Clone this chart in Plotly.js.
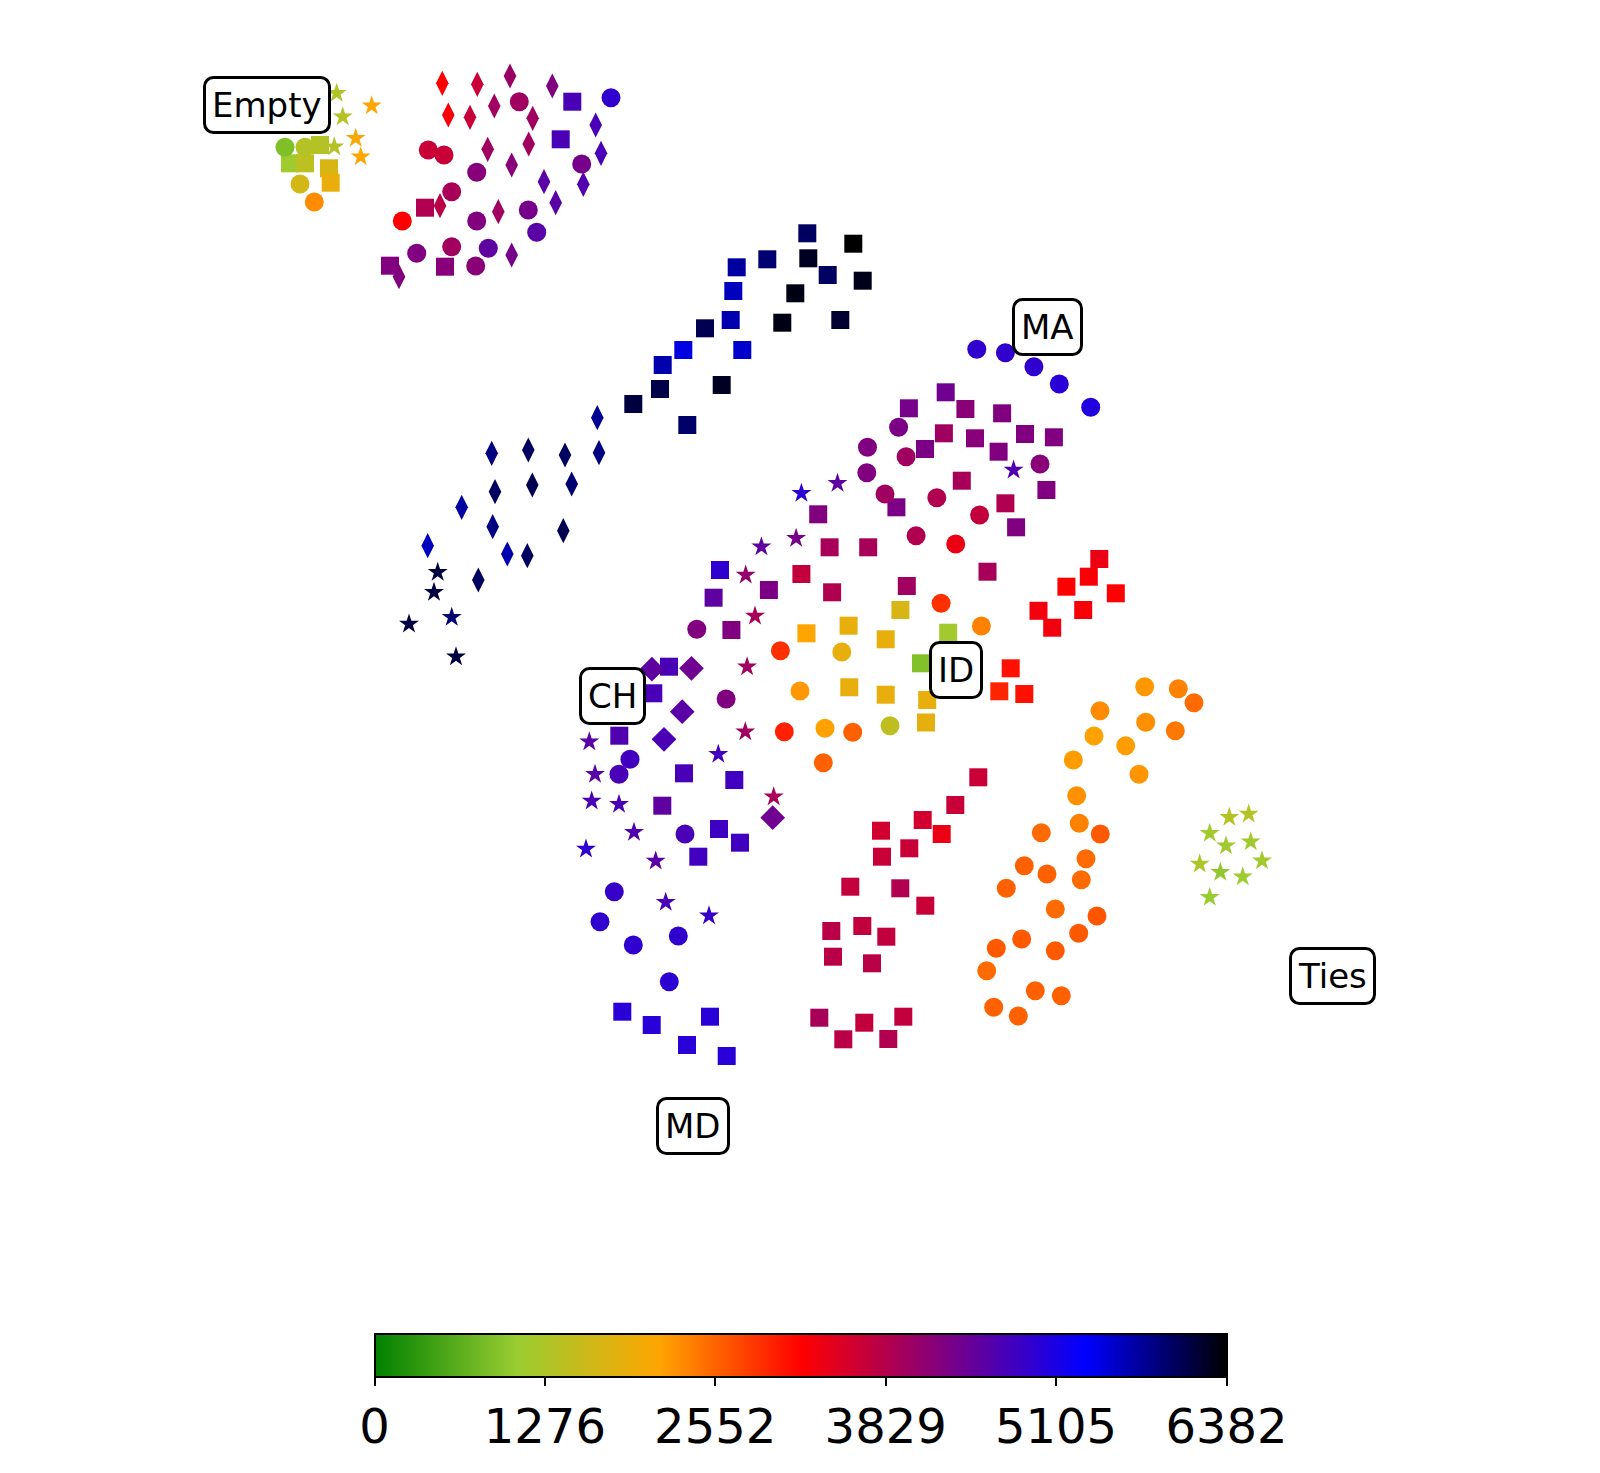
<!DOCTYPE html>
<html><head><meta charset="utf-8">
<script src="https://cdn.plot.ly/plotly-3.0.1.min.js"></script>
<style>html,body{margin:0;padding:0;background:#fff}</style>
</head><body><div id="chart" style="width:1600px;height:1473px"></div>
<script>
// ---- data (embedding coordinates and value per point) ----
const circleX = [285,305,300,314.3,
 519.3,611,428.3,444,476.7,581.7,451.7,402.3,476.7,528.3,536.7,416.7,451.7,488.3,475.7,
 976.8,1005.4,1033.9,1059.3,1090.7,
 898.6,867.5,906.1,866.8,1040,885,936.8,979.6,916.1,955.7,941.1,981.4,780.4,841.8,800,726.1,696.8,784.3,825,852.7,890,823.3,
 630,619,685,614.3,600,633.3,678.3,669.3,
 1144.7,1178.3,1194,1100,1145.7,1175.3,1094,1125.7,1073.3,1139,1076.7,1079.3,1041.3,1100.3,1086,1024.3,1047,1081.3,1006.3,1055.3,1097,1021.7,1078.7,996.3,1055.3,986.7,1035.3,1061.3,993.7,1018.3];
const circleY = [147.3,147.3,184,202,
 101.7,97.7,150,155,172.3,164,191.7,221,221,210,232.3,253.3,246.7,248.3,266,
 349.3,352.7,366.7,384,407.3,
 427.3,447.3,456.7,472.7,464,494,497.7,515,535.7,544,603.3,626,650.7,652,691,699,629.3,731.7,728.3,732.3,725.7,762.7,
 759.3,774.3,834,891.7,921.7,945,936,981.7,
 686.7,688.7,702.7,710.7,722.3,730.7,736,745.7,760,774.3,795.7,823.3,832.7,834,858.7,865.7,874,879.7,888.3,909,916,939,933.3,948.3,950.7,970.7,990.7,995.7,1007.3,1016];
const circleV = [880,1350,1650,2290,
 3990,4920,3650,3650,4200,4340,3920,3191,4240,4340,4575,4255,3990,4530,4180,
 4920,4920,4920,4980,5050,
 4300,4255,3990,4255,4180,3990,3850,3700,3850,3350,2880,2360,2880,1890,2210,4255,4255,2980,2150,2573,1450,2573,
 4780,4710,4710,4860,4920,4920,4920,4950,
 2210,2360,2500,2290,2270,2410,2150,2180,2180,2230,2260,2360,2500,2620,2500,2570,2570,2500,2570,2500,2650,2620,2620,2620,2620,2500,2570,2570,2570,2570];

const squareX = [290,305,320,329,330.7,
 572.3,560.7,425,390,445,
 807.3,853.3,736.7,767.3,808.3,827.7,862.7,733.3,795.3,730.7,705,782.3,840.3,683.3,742.3,662.7,660,633.3,721.7,687.3,
 945.7,908.9,965.4,1002.1,943.9,975,1025,1053.9,925,998.6,961.8,1046.4,1005.4,896.4,1016.1,818.2,829.6,868.2,801.4,832.1,987.5,906.8,720,713.6,768.9,731.4,
 806.4,848.6,900.4,885.7,948.2,921,849.3,885.7,927.2,926,
 1099.3,1088.8,1066.4,1115.8,1038.5,1083.2,1052.2,1010.7,999.3,1024.3,
 669,653.3,619.3,684,734.3,662.3,719,740,698.3,
 622.3,651.7,710,687,726.7,
 978.3,955.3,922.7,941.7,881,909.3,882,850.3,900.3,925.3,831.3,862.3,886.3,833,872,819.3,864.3,903.3,843.3,888.3];
const squareY = [163.3,163.3,145,168.3,182.7,
 101.7,139.3,207.7,265.7,266.7,
 233.3,243.7,267.3,259.3,258.3,275,280.7,291,293.3,320,328.3,322.7,320,350,350,365,389,404,385,425,
 392.3,408.3,409,413.3,433.3,438.3,434,437.3,449,451.7,480.7,490,503.3,507.3,527.3,514.3,547.3,547.3,574,592.3,571.7,586,570,597.7,590,630,
 633.3,625.7,610,639.3,632.7,663.3,687.3,694.7,700,722.5,
 559,576.7,586.7,593.3,610.8,610,627.7,668.3,691.3,694,
 666.7,693.3,735.7,773.3,780,805.7,829,842.7,856.7,
 1011.7,1025,1016.7,1045,1056,
 777.3,805,820,834,830.7,848.3,856.7,886.7,888.3,905.7,931,926,936.7,956.7,963.3,1017.7,1022.7,1016.7,1039.3,1039];
const squareV = [1130,1420,1350,1700,1900,
 4700,4700,3850,4255,4200,
 5982,6382,5714,5916,6240,5982,6270,5585,6300,5650,6050,6300,6180,5445,5530,5650,6080,6110,6240,5950,
 4400,4340,4180,4255,3990,4200,4255,4255,4300,4255,3920,4255,3850,4300,4255,4255,3920,3920,3700,3850,3920,3990,4920,4530,4300,4255,
 2127,1890,1700,1890,1150,900,1890,1890,1890,1850,
 3350,3260,3191,3191,3300,3260,3300,3085,2950,3085,
 4710,4710,4650,4710,4780,4530,4800,4780,4780,
 4980,4980,4980,4980,4980,
 3650,3650,3580,3350,3580,3650,3650,3700,3850,3650,3780,3700,3700,3780,3780,3920,3700,3700,3780,3850];

const thinDiamondX = [442.3,477.3,510,552.3,448.3,470,494.3,532.7,487.7,528.7,511.7,595.7,601,544,583.3,555.7,498.3,440,511.7,399,
 597.3,491.7,528.3,565,599,495,532.3,571.7,461.7,492.7,563.3,427.7,507.3,527.3,478.3];
const thinDiamondY = [83.3,84.3,76,86,115,117.3,106,118.3,149.3,144,165,125,153.3,181.7,184.3,202.7,211.7,205.7,255,276.7,
 417.7,453.3,450,455,452.7,491.7,485,484,507.3,526.7,530.7,545.7,554,555.7,580];
const thinDiamondV = [3191,3650,4042,4255,3265,3650,3990,3990,3990,3990,4200,4703,4710,4575,4650,4575,3990,3780,4340,4255,
 5777,5850,5982,5982,5850,5982,6050,5916,5714,5850,6050,5585,5650,5982,5982];

const diamondX = [651.9,691.5,682.2,664,772.7];
const diamondY = [669.2,668.3,711.7,739.3,817.7];
const diamondV = [4530,4400,4575,4700,4400];

const starX = [336.7,371.7,342.7,355.7,334.3,360.7,
 437.7,434,451.7,409,456,
 801.4,837.5,1013.6,761.4,796.1,745.7,755,747.1,745.3,589.3,595,591.7,619,634,586,655.7,718.3,773.7,665.7,709,
 1229.3,1248.7,1209.7,1226,1250.7,1262,1199.7,1220.3,1242.7,1209.7];
const starY = [93.3,105.7,116.7,138.3,146.7,156.7,
 572.3,592.3,617.3,624,656.7,
 493.3,483.3,470,546.7,538.3,575,616,666.7,731.7,741.7,774.3,801,804.3,832.3,849,861,754.3,796.7,902.3,915.7,
 817.3,814,833.3,845.7,841.7,860.7,864,872.3,876.7,897.3];
const starV = [1300,2127,1350,2050,1350,2127,
 6110,6110,5916,6110,6110,
 4950,4530,4650,4530,4340,4100,3920,3990,3990,4575,4575,4710,4710,4650,4950,4575,4780,3920,4710,4860,
 1330,1330,1150,1150,1150,1150,1250,1000,1100,1050];

const labelText = ['Empty','MA','ID','CH','MD','Ties'];
const labelX = [267,1047.4,955.6,612.2,693.4,1332.7];
const labelY = [105,327,670,696.4,1126,975.5];

const cbTicks = [0,1276,2552,3829,5105,6382];
const vMin = 0, vMax = 6382;

// ---- styling ----
const cscale = [[0,'#008000'],[1/6,'#9acd32'],[2/6,'#ffa500'],[3/6,'#ff0000'],[4/6,'#800080'],[5/6,'#0000ff'],[1,'#000000']];
function tr(x,y,v,symbol,size,showscale){
  const m = {color:v, colorscale:cscale, cmin:vMin, cmax:vMax, symbol:symbol, size:size, line:{width:0}, showscale:!!showscale};
  if(showscale){
    m.colorbar = {orientation:'h', lenmode:'pixels', len:852, thicknessmode:'pixels', thickness:43,
      x:800.5/1600, xanchor:'center', y:1-1333.7/1473, yanchor:'top', ypad:0, xpad:0,
      outlinewidth:2, outlinecolor:'#000', ticks:'outside', ticklen:8, tickwidth:2, tickcolor:'#000',
      tickvals:cbTicks, ticktext:cbTicks.map(String), tickfont:{family:'DejaVu Sans', size:48, color:'#000'}};
  }
  return {type:'scatter', mode:'markers', x:x, y:y, marker:m, hoverinfo:'skip'};
}
const data = [
  tr(thinDiamondX,thinDiamondY,thinDiamondV,'diamond-tall',18,false),
  tr(squareX,squareY,squareV,'square',18,false),
  tr(circleX,circleY,circleV,'circle',19,true),
  tr(diamondX,diamondY,diamondV,'diamond',19,false),
  tr(starX,starY,starV,'star',15,false)
];
const ax = {visible:false, showgrid:false, zeroline:false, fixedrange:true};
const layout = {
  width:1600, height:1473, margin:{l:0,r:0,t:0,b:0,autoexpand:false},
  paper_bgcolor:'#fff', plot_bgcolor:'#fff', showlegend:false,
  xaxis:Object.assign({range:[0,1600]},ax),
  yaxis:Object.assign({range:[1473,0]},ax),
  annotations: labelText.map((t,i)=>({x:labelX[i], y:labelY[i], xref:'x', yref:'y', text:t, showarrow:false,
    font:{family:'DejaVu Sans', size:34, color:'#000'}, bgcolor:'#fff', bordercolor:'#000', borderwidth:3, borderpad:6}))
};
Plotly.newPlot('chart', data, layout, {staticPlot:true}).then(function(gd){
  // rounded label boxes, as in the original
  gd.querySelectorAll('.annotation rect.bg').forEach(function(r){ r.setAttribute('rx', 9); r.setAttribute('ry', 9); });
});
</script></body></html>
